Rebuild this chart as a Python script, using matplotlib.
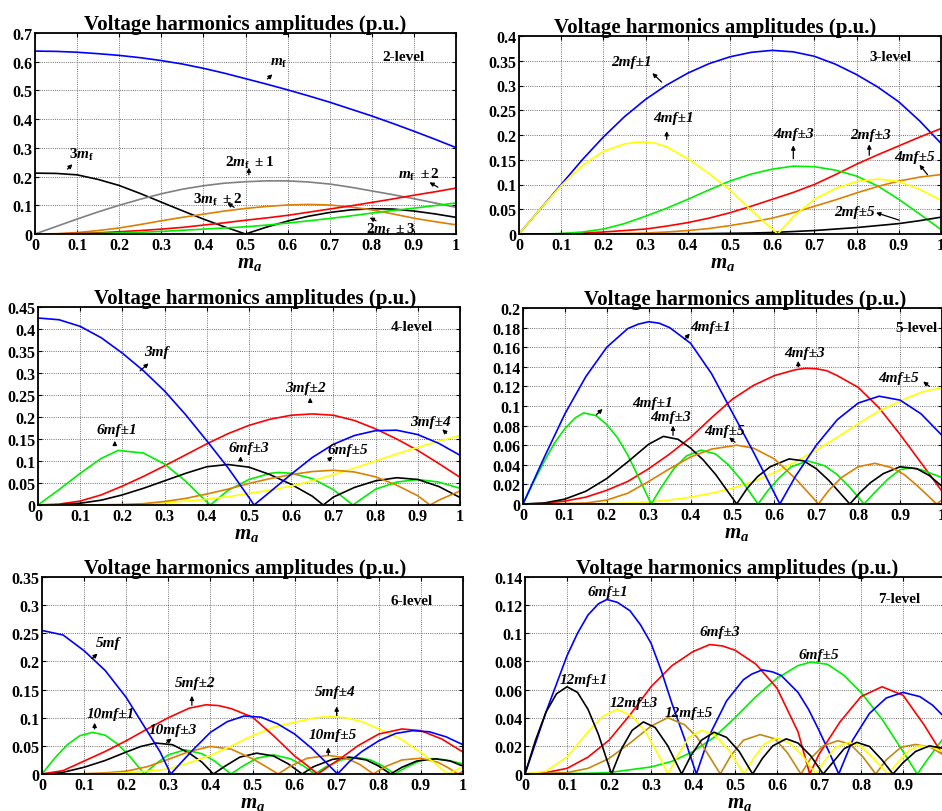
import matplotlib
matplotlib.use("Agg")
import matplotlib.pyplot as plt
from matplotlib.ticker import FuncFormatter

plt.rcParams["font.family"] = ["Liberation Serif", "DejaVu Serif"]
plt.rcParams["font.weight"] = "bold"
plt.rcParams["mathtext.fontset"] = "custom"
plt.rcParams["mathtext.rm"] = "Liberation Serif:bold"
plt.rcParams["mathtext.it"] = "Liberation Serif:italic:bold"
plt.rcParams["mathtext.bf"] = "Liberation Serif:bold"

# ---------------------------------------------------------------- data
MA = [0, 0.05, 0.1, 0.15, 0.2, 0.25, 0.3, 0.35, 0.4, 0.45, 0.5,
      0.55, 0.6, 0.65, 0.7, 0.75, 0.8, 0.85, 0.9, 0.95, 1.0]
X_TICKS = [0, 0.1, 0.2, 0.3, 0.4, 0.5, 0.6, 0.7, 0.8, 0.9, 1.0]

# 2-level
L2_MF = [0.637, 0.636, 0.633, 0.628, 0.622, 0.614, 0.604, 0.592, 0.577, 0.560, 0.541,
         0.522, 0.502, 0.481, 0.459, 0.435, 0.411, 0.385, 0.358, 0.330, 0.301]
L2_3MF = [0.212, 0.211, 0.206, 0.190, 0.169, 0.141, 0.111, 0.081, 0.052, 0.025, 0.0,
          0.024, 0.045, 0.062, 0.075, 0.084, 0.088, 0.087, 0.080, 0.070, 0.058]
L2_2MF1 = [0, 0.026, 0.052, 0.077, 0.100, 0.121, 0.140, 0.156, 0.168, 0.177, 0.182,
           0.185, 0.185, 0.181, 0.174, 0.163, 0.150, 0.137, 0.123, 0.108, 0.093]
L2_3MF2 = [0, 0.001, 0.005, 0.012, 0.021, 0.033, 0.046, 0.058, 0.069, 0.080, 0.089,
           0.096, 0.101, 0.103, 0.101, 0.094, 0.084, 0.070, 0.055, 0.043, 0.032]
L2_MF2 = [0, 0.0003, 0.002, 0.004, 0.008, 0.012, 0.017, 0.023, 0.031, 0.039, 0.048,
          0.056, 0.065, 0.076, 0.087, 0.098, 0.110, 0.122, 0.135, 0.147, 0.160]
L2_2MF3 = [0, 0, 0.001, 0.002, 0.004, 0.006, 0.009, 0.013, 0.017, 0.021, 0.025,
           0.031, 0.038, 0.046, 0.054, 0.063, 0.073, 0.082, 0.090, 0.099, 0.108]
L2_Y_TICKS = [0, 0.1, 0.2, 0.3, 0.4, 0.5, 0.6, 0.7]

# 3-level
L3_2MF1 = [0, 0.05, 0.1, 0.15, 0.196, 0.237, 0.272, 0.301, 0.325, 0.344, 0.358,
           0.367, 0.371, 0.368, 0.359, 0.343, 0.322, 0.297, 0.267, 0.228, 0.183]
L3_4MF1_X = [0, 0.05, 0.1, 0.15, 0.2, 0.25, 0.275, 0.3, 0.325, 0.35, 0.4, 0.45, 0.5, 0.55, 0.6, 0.613,
             0.65, 0.7, 0.75, 0.8, 0.85, 0.9, 0.95, 1.0]
L3_4MF1 = [0, 0.05, 0.098, 0.138, 0.167, 0.182, 0.185, 0.186, 0.183, 0.176, 0.152, 0.122, 0.089, 0.048, 0.01, 0,
           0.035, 0.07, 0.092, 0.106, 0.111, 0.106, 0.09, 0.068]
L3_4MF3 = [0, 0, 0.001, 0.004, 0.01, 0.021, 0.036, 0.052, 0.07, 0.089, 0.107,
           0.121, 0.131, 0.137, 0.136, 0.129, 0.117, 0.097, 0.07, 0.04, 0.009]
L3_2MF3 = [0, 0, 0.0005, 0.002, 0.004, 0.007, 0.01, 0.016, 0.023, 0.032, 0.043,
           0.056, 0.07, 0.084, 0.1, 0.12, 0.141, 0.16, 0.178, 0.196, 0.213]
L3_4MF5 = [0, 0, 0, 0, 0.0005, 0.001, 0.002, 0.004, 0.007, 0.011, 0.017,
           0.024, 0.032, 0.043, 0.056, 0.069, 0.083, 0.096, 0.107, 0.115, 0.12]
L3_2MF5 = [0, 0, 0, 0, 0, 0, 0.0002, 0.0004, 0.0007, 0.001, 0.0015,
           0.002, 0.003, 0.005, 0.007, 0.01, 0.013, 0.017, 0.021, 0.027, 0.034]
L3_Y_TICKS = [0, 0.05, 0.1, 0.15, 0.2, 0.25, 0.3, 0.35, 0.4]

# 4-level
L4_3MF_X = [0, 0.05, 0.1, 0.15, 0.2, 0.25, 0.3, 0.35, 0.4, 0.45, 0.5, 0.512,
            0.55, 0.6, 0.65, 0.7, 0.75, 0.8, 0.85, 0.9, 0.95, 1.0]
L4_3MF = [0.425, 0.421, 0.406, 0.38, 0.345, 0.305, 0.259, 0.205, 0.146, 0.085, 0.017, 0,
          0.03, 0.07, 0.108, 0.138, 0.158, 0.169, 0.17, 0.16, 0.14, 0.113]
L4_3MF2 = [0, 0.002, 0.009, 0.023, 0.043, 0.065, 0.089, 0.114, 0.139, 0.162, 0.181,
           0.195, 0.204, 0.207, 0.204, 0.192, 0.173, 0.15, 0.124, 0.094, 0.063]
L4_6MF1_X = [0, 0.05, 0.1, 0.15, 0.19, 0.25, 0.3, 0.35, 0.4, 0.408, 0.45, 0.5, 0.55, 0.57,
             0.6, 0.65, 0.7, 0.746, 0.8, 0.85, 0.9, 0.95, 1.0]
L4_6MF1 = [0, 0.035, 0.072, 0.106, 0.124, 0.118, 0.093, 0.054, 0.007, 0, 0.033, 0.058, 0.072, 0.074,
           0.072, 0.06, 0.035, 0, 0.036, 0.052, 0.058, 0.052, 0.038]
L4_6MF3_X = [0, 0.05, 0.1, 0.15, 0.2, 0.25, 0.3, 0.35, 0.4, 0.45, 0.5, 0.55, 0.6, 0.65, 0.676,
             0.7, 0.75, 0.8, 0.85, 0.9, 0.95, 1.0]
L4_6MF3 = [0, 0.0005, 0.004, 0.011, 0.023, 0.038, 0.055, 0.072, 0.087, 0.092, 0.086, 0.069, 0.047, 0.02, 0,
           0.018, 0.04, 0.055, 0.062, 0.058, 0.042, 0.017]
L4_6MF5_X = [0, 0.05, 0.1, 0.15, 0.2, 0.25, 0.3, 0.35, 0.4, 0.45, 0.5, 0.55, 0.6, 0.65, 0.7,
             0.75, 0.8, 0.85, 0.9, 0.929, 0.95, 1.0]
L4_6MF5 = [0, 0, 0, 0.0005, 0.001, 0.003, 0.008, 0.015, 0.025, 0.036, 0.049, 0.06, 0.069, 0.076, 0.079,
           0.075, 0.064, 0.045, 0.021, 0, 0.011, 0.032]
L4_3MF4 = [0, 0, 0, 0.0005, 0.001, 0.003, 0.005, 0.009, 0.013, 0.019, 0.026,
           0.034, 0.043, 0.055, 0.069, 0.084, 0.1, 0.116, 0.131, 0.145, 0.158]
L4_Y_TICKS = [0, 0.05, 0.1, 0.15, 0.2, 0.25, 0.3, 0.35, 0.4, 0.45]

# 5-level
L5_4MF1_X = [0, 0.05, 0.1, 0.15, 0.2, 0.25, 0.275, 0.3, 0.325, 0.35, 0.4, 0.45, 0.5, 0.55, 0.6, 0.613,
             0.65, 0.7, 0.75, 0.8, 0.85, 0.9, 0.95, 1.0]
L5_4MF1 = [0, 0.047, 0.092, 0.13, 0.16, 0.179, 0.1835, 0.186, 0.1845, 0.18, 0.164, 0.133, 0.093, 0.053, 0.011, 0,
           0.028, 0.06, 0.086, 0.103, 0.11, 0.106, 0.092, 0.07]
L5_4MF3_X = [0, 0.05, 0.1, 0.15, 0.2, 0.25, 0.3, 0.35, 0.4, 0.45, 0.5, 0.55, 0.6, 0.65, 0.675,
             0.7, 0.725, 0.75, 0.8, 0.85, 0.9, 0.95, 1.0]
L5_4MF3 = [0, 0.0005, 0.003, 0.007, 0.014, 0.023, 0.036, 0.051, 0.068, 0.088, 0.107, 0.121, 0.131, 0.137, 0.1385,
           0.138, 0.136, 0.131, 0.119, 0.098, 0.071, 0.042, 0.013]
L5_4MF5 = [0, 0, 0, 0, 0.0005, 0.001, 0.002, 0.004, 0.007, 0.011, 0.016,
           0.023, 0.032, 0.043, 0.055, 0.068, 0.082, 0.095, 0.105, 0.114, 0.119]
L5_8MF1_X = [0, 0.025, 0.05, 0.075, 0.1, 0.125, 0.145, 0.175, 0.2, 0.225, 0.25, 0.275, 0.306,
             0.33, 0.36, 0.39, 0.425, 0.46, 0.49, 0.52, 0.561,
             0.585, 0.61, 0.64, 0.68, 0.72, 0.75, 0.78, 0.814,
             0.84, 0.87, 0.9, 0.925, 0.95, 0.975, 1.0]
L5_8MF1 = [0, 0.022, 0.043, 0.062, 0.077, 0.088, 0.093, 0.09, 0.081, 0.068, 0.05, 0.028, 0,
           0.017, 0.036, 0.049, 0.055, 0.051, 0.04, 0.025, 0,
           0.014, 0.026, 0.038, 0.044, 0.039, 0.03, 0.017, 0,
           0.012, 0.025, 0.035, 0.037, 0.035, 0.031, 0.027]
L5_8MF3_X = [0, 0.05, 0.1, 0.15, 0.2, 0.25, 0.3, 0.335, 0.37, 0.4, 0.43, 0.46, 0.49, 0.51,
             0.535, 0.56, 0.59, 0.635, 0.67, 0.7, 0.73, 0.755, 0.78,
             0.805, 0.83, 0.86, 0.9, 0.94, 0.97, 1.0]
L5_8MF3 = [0, 0.001, 0.005, 0.013, 0.026, 0.043, 0.061, 0.069, 0.066, 0.057, 0.045, 0.03, 0.012, 0,
           0.016, 0.028, 0.038, 0.046, 0.044, 0.036, 0.024, 0.012, 0,
           0.012, 0.022, 0.031, 0.038, 0.036, 0.029, 0.018]
L5_8MF5_X = [0, 0.1, 0.15, 0.2, 0.25, 0.3, 0.35, 0.4, 0.45, 0.51, 0.55, 0.6, 0.65, 0.68, 0.705,
             0.73, 0.76, 0.8, 0.84, 0.88, 0.91, 0.94, 0.965, 0.987, 1.0]
L5_8MF5 = [0, 0.0005, 0.001, 0.004, 0.011, 0.023, 0.036, 0.048, 0.056, 0.06, 0.057, 0.046, 0.026, 0.012, 0,
           0.014, 0.027, 0.038, 0.0415, 0.037, 0.03, 0.019, 0.009, 0, 0.004]
L5_Y_TICKS = [0, 0.02, 0.04, 0.06, 0.08, 0.1, 0.12, 0.14, 0.16, 0.18, 0.2]

# 6-level
L6_5MF_X = [0, 0.05, 0.1, 0.15, 0.2, 0.25, 0.28, 0.306,
            0.33, 0.36, 0.4, 0.44, 0.48, 0.52, 0.56, 0.6, 0.64, 0.67, 0.702,
            0.73, 0.76, 0.8, 0.84, 0.88, 0.92, 0.96, 1.0]
L6_5MF = [0.255, 0.247, 0.219, 0.184, 0.136, 0.076, 0.04, 0,
          0.02, 0.044, 0.074, 0.093, 0.103, 0.101, 0.089, 0.071, 0.046, 0.024, 0,
          0.022, 0.04, 0.059, 0.072, 0.077, 0.075, 0.066, 0.052]
L6_5MF2_X = [0, 0.05, 0.1, 0.15, 0.2, 0.25, 0.3, 0.35, 0.39, 0.42, 0.45, 0.5, 0.55, 0.6, 0.63, 0.655,
             0.68, 0.71, 0.75, 0.8, 0.855, 0.9, 0.95, 1.0]
L6_5MF2 = [0, 0.006, 0.023, 0.04, 0.059, 0.08, 0.1, 0.117, 0.123, 0.1215, 0.116, 0.101, 0.068, 0.032, 0.015, 0,
           0.013, 0.028, 0.05, 0.071, 0.08, 0.077, 0.062, 0.039]
L6_5MF4_X = [0, 0.1, 0.15, 0.2, 0.25, 0.3, 0.35, 0.4, 0.45, 0.5, 0.55, 0.6, 0.65, 0.68, 0.72,
             0.76, 0.8, 0.85, 0.9, 0.93, 0.964, 0.98, 1.0]
L6_5MF4 = [0, 0, 0.0005, 0.002, 0.005, 0.009, 0.02, 0.033, 0.05, 0.068, 0.083, 0.092, 0.1, 0.102, 0.1,
           0.093, 0.08, 0.063, 0.038, 0.021, 0, 0.006, 0.013]
L6_10MF1_X = [0, 0.03, 0.06, 0.09, 0.12, 0.15, 0.18, 0.21, 0.243,
              0.27, 0.3, 0.34, 0.38, 0.41, 0.449,
              0.475, 0.51, 0.55, 0.59, 0.62, 0.648,
              0.675, 0.71, 0.745, 0.78, 0.81, 0.838,
              0.865, 0.9, 0.93, 0.96, 1.0]
L6_10MF1 = [0, 0.028, 0.052, 0.068, 0.074, 0.069, 0.053, 0.03, 0,
            0.018, 0.034, 0.043, 0.036, 0.023, 0,
            0.013, 0.028, 0.034, 0.027, 0.015, 0,
            0.013, 0.025, 0.03, 0.025, 0.014, 0,
            0.012, 0.024, 0.027, 0.025, 0.018]
L6_10MF3_X = [0, 0.05, 0.1, 0.15, 0.2, 0.235, 0.27, 0.31, 0.35, 0.38, 0.407,
              0.435, 0.47, 0.51, 0.55, 0.585, 0.618,
              0.645, 0.69, 0.73, 0.77, 0.8, 0.828,
              0.855, 0.89, 0.935, 0.97, 1.0]
L6_10MF3 = [0, 0.003, 0.012, 0.024, 0.039, 0.049, 0.055, 0.052, 0.037, 0.021, 0,
            0.014, 0.03, 0.037, 0.032, 0.018, 0,
            0.013, 0.026, 0.03, 0.025, 0.014, 0,
            0.012, 0.023, 0.027, 0.023, 0.014]
L6_10MF5_X = [0, 0.1, 0.15, 0.2, 0.25, 0.3, 0.35, 0.4, 0.45, 0.5, 0.53, 0.561,
              0.59, 0.63, 0.68, 0.72, 0.755, 0.787,
              0.815, 0.855, 0.9, 0.94, 0.965, 0.988, 1.0]
L6_10MF5 = [0, 0.0005, 0.002, 0.005, 0.013, 0.026, 0.04, 0.049, 0.044, 0.027, 0.014, 0,
            0.014, 0.028, 0.033, 0.029, 0.017, 0,
            0.013, 0.025, 0.028, 0.021, 0.011, 0, 0.005]
L6_Y_TICKS = [0, 0.05, 0.1, 0.15, 0.2, 0.25, 0.3, 0.35]

# 7-level
L7_6MF1_X = [0, 0.05, 0.1, 0.125, 0.15, 0.175, 0.195, 0.22, 0.25, 0.275, 0.3, 0.325, 0.35, 0.38, 0.408,
             0.44, 0.48, 0.52, 0.54, 0.565, 0.59, 0.61, 0.65, 0.675, 0.7, 0.725, 0.747,
             0.78, 0.82, 0.86, 0.9, 0.94, 0.97, 1.0]
L7_6MF1 = [0, 0.044, 0.084, 0.1, 0.113, 0.121, 0.124, 0.122, 0.116, 0.106, 0.093, 0.073, 0.05, 0.025, 0,
           0.028, 0.052, 0.067, 0.071, 0.074, 0.0725, 0.07, 0.058, 0.046, 0.031, 0.015, 0,
           0.024, 0.043, 0.054, 0.058, 0.055, 0.049, 0.04]
L7_6MF3_X = [0, 0.05, 0.1, 0.15, 0.2, 0.25, 0.3, 0.35, 0.4, 0.44, 0.47, 0.5, 0.55, 0.6, 0.65, 0.678,
             0.7, 0.75, 0.8, 0.85, 0.9, 0.95, 1.0]
L7_6MF3 = [0, 0.001, 0.004, 0.012, 0.024, 0.042, 0.062, 0.077, 0.087, 0.092, 0.091, 0.088, 0.078, 0.061, 0.03, 0,
           0.014, 0.037, 0.055, 0.062, 0.056, 0.035, 0.011]
L7_6MF5_X = [0, 0.15, 0.2, 0.25, 0.3, 0.35, 0.4, 0.45, 0.5, 0.55, 0.6, 0.65, 0.68, 0.72,
             0.76, 0.8, 0.85, 0.9, 0.934, 0.96, 1.0]
L7_6MF5 = [0, 0.0005, 0.001, 0.003, 0.005, 0.009, 0.016, 0.026, 0.04, 0.055, 0.068, 0.077, 0.0795, 0.078,
           0.07, 0.058, 0.039, 0.016, 0, 0.011, 0.027]
L7_12MF1_X = [0, 0.025, 0.05, 0.075, 0.1, 0.125, 0.15, 0.175, 0.206,
              0.23, 0.255, 0.282, 0.31, 0.34, 0.373,
              0.395, 0.42, 0.45, 0.48, 0.51, 0.542,
              0.565, 0.59, 0.622, 0.65, 0.68, 0.71,
              0.735, 0.76, 0.79, 0.82, 0.85, 0.876,
              0.9, 0.93, 0.963, 1.0]
L7_12MF1 = [0, 0.024, 0.044, 0.057, 0.062, 0.058, 0.046, 0.028, 0,
            0.018, 0.031, 0.037, 0.033, 0.02, 0,
            0.013, 0.024, 0.0297, 0.026, 0.016, 0,
            0.011, 0.02, 0.025, 0.022, 0.013, 0,
            0.009, 0.018, 0.0225, 0.0196, 0.01, 0,
            0.008, 0.016, 0.02, 0.018]
L7_12MF3_X = [0, 0.05, 0.1, 0.15, 0.185, 0.22, 0.255, 0.285, 0.315, 0.341,
              0.365, 0.39, 0.42, 0.45, 0.485, 0.521,
              0.545, 0.57, 0.6, 0.63, 0.66, 0.692,
              0.715, 0.74, 0.77, 0.8, 0.83, 0.864,
              0.89, 0.915, 0.94, 0.97, 1.0]
L7_12MF3 = [0, 0.002, 0.012, 0.03, 0.041, 0.046, 0.041, 0.031, 0.015, 0,
            0.014, 0.026, 0.031, 0.028, 0.017, 0,
            0.0115, 0.0215, 0.0256, 0.022, 0.0135, 0,
            0.01, 0.019, 0.0225, 0.0196, 0.011, 0,
            0.009, 0.017, 0.02, 0.019, 0.015]
L7_12MF5_X = [0, 0.1, 0.15, 0.2, 0.25, 0.3, 0.34, 0.38, 0.41, 0.44, 0.465,
              0.49, 0.52, 0.56, 0.595, 0.625, 0.657,
              0.68, 0.71, 0.745, 0.775, 0.805, 0.835,
              0.86, 0.895, 0.93, 0.965, 1.0]
L7_12MF5 = [0, 0.001, 0.004, 0.011, 0.022, 0.034, 0.04, 0.035, 0.026, 0.012, 0,
            0.013, 0.024, 0.028, 0.025, 0.015, 0,
            0.011, 0.02, 0.0237, 0.021, 0.012, 0,
            0.01, 0.019, 0.021, 0.019, 0.013]
L7_Y_TICKS = [0, 0.02, 0.04, 0.06, 0.08, 0.1, 0.12, 0.14]

# ---------------------------------------------------------------- style
BLUE, RED, GREEN, YELLOW = "#0000ff", "#ff0000", "#00ee00", "#ffff00"
ORANGE, GRAY, BLACK, OCHRE = "#dd7f00", "#808080", "#000000", "#c08a10"
LW = 1.2
TITLE = "Voltage harmonics amplitudes (p.u.)"

W, H = 942, 812
fig = plt.figure(figsize=(W / 100, H / 100), dpi=100)


def make_axes(left, right, top, bottom, yticks, title_x=0.5, label_x=0.5):
    ax = fig.add_axes([left / W, 1 - bottom / H, (right - left) / W, (bottom - top) / H])
    ax.set_xlim(0, 1)
    ax.set_ylim(yticks[0], yticks[-1])
    ax.set_xticks(X_TICKS)
    ax.set_yticks(yticks)
    fmt = FuncFormatter(lambda v, p: ("%.2f" % v).rstrip("0").rstrip(".") if v else "0")
    ax.xaxis.set_major_formatter(fmt)
    ax.yaxis.set_major_formatter(fmt)
    ax.tick_params(direction="in", length=3, width=0.8, labelsize=11.5, pad=2,
                   top=True, right=True)
    for lab in ax.get_xticklabels() + ax.get_yticklabels():
        lab.set_fontweight("bold")
    ax.grid(True, color="#444444", linestyle=(0, (1, 1.6)), linewidth=0.6)
    for s in ax.spines.values():
        s.set_linewidth(1.3)
    ax.set_title(TITLE, fontsize=15, fontweight="bold", pad=3, x=title_x)
    ax.set_xlabel(r"$m_a$", fontsize=15, labelpad=0, x=label_x)
    return ax


def tag(ax, text, x, y, arrow=None, italic=True, size=11):
    ax.text(x, y, text, ha="center", va="center", fontsize=size, fontweight="bold",
            fontstyle="italic" if italic else "normal", zorder=5)
    if arrow is not None:
        ax.annotate("", xy=arrow[1], xytext=arrow[0],
                    arrowprops=dict(arrowstyle="-|>", color="k", lw=0.9,
                                    mutation_scale=6, shrinkA=0, shrinkB=0), zorder=5)


# ---------------------------------------------------------------- 2-level
ax = make_axes(35, 456, 34, 235, L2_Y_TICKS, 0.5, 0.51)
ax.plot(MA, L2_MF, color=BLUE, lw=LW)
ax.plot(MA, L2_3MF, color=BLACK, lw=LW)
ax.plot(MA, L2_2MF1, color=GRAY, lw=LW)
ax.plot(MA, L2_3MF2, color=ORANGE, lw=LW)
ax.plot(MA, L2_MF2, color=RED, lw=LW)
ax.plot(MA, L2_2MF3, color=GREEN, lw=LW)
tag(ax, "2-level", 0.875, 0.617, italic=False)
tag(ax, r"$m_\mathrm{f}$", 0.58, 0.596, arrow=((0.552, 0.54), (0.564, 0.556)))
tag(ax, r"$3m_\mathrm{f}$", 0.11, 0.278, arrow=((0.077, 0.226), (0.089, 0.243)))
tag(ax, r"$2m_\mathrm{f}\ \pm1$", 0.51, 0.252, arrow=((0.508, 0.206), (0.508, 0.231)))
tag(ax, r"$m_\mathrm{f}\ \pm2$", 0.912, 0.208, arrow=((0.957, 0.163), (0.937, 0.18)))
tag(ax, r"$3m_\mathrm{f}\ \pm2$", 0.435, 0.121, arrow=((0.473, 0.093), (0.457, 0.108)))
tag(ax, r"$2m_\mathrm{f}\ \pm3$", 0.845, 0.017, arrow=((0.81, 0.046), (0.795, 0.057)))

# ---------------------------------------------------------------- 3-level
ax = make_axes(519, 941, 37, 235, L3_Y_TICKS, 0.464, 0.483)
ax.plot(MA, L3_2MF1, color=BLUE, lw=LW)
ax.plot(MA, L3_2MF3, color=RED, lw=LW)
ax.plot(MA, L3_4MF3, color=GREEN, lw=LW)
ax.plot(MA, L3_4MF5, color=ORANGE, lw=LW)
ax.plot(MA, L3_2MF5, color=BLACK, lw=LW)
ax.plot(L3_4MF1_X, L3_4MF1, color=YELLOW, lw=LW)
tag(ax, "3-level", 0.88, 0.359, italic=False)
tag(ax, "2mf±1", 0.267, 0.348, arrow=((0.338, 0.307), (0.316, 0.325)))
tag(ax, "4mf±1", 0.366, 0.235, arrow=((0.35, 0.191), (0.35, 0.208)))
tag(ax, "4mf±3", 0.65, 0.203, arrow=((0.65, 0.152), (0.65, 0.179)))
tag(ax, "2mf±3", 0.833, 0.201, arrow=((0.83, 0.159), (0.83, 0.181)))
tag(ax, "4mf±5", 0.938, 0.157, arrow=((0.968, 0.12), (0.949, 0.14)))
tag(ax, "2mf±5", 0.794, 0.046, arrow=((0.901, 0.028), (0.846, 0.043)))

# ---------------------------------------------------------------- 4-level
ax = make_axes(38, 460, 308, 506, L4_Y_TICKS, 0.514, 0.495)
ax.plot(MA, L4_3MF2, color=RED, lw=LW)
ax.plot(L4_6MF1_X, L4_6MF1, color=GREEN, lw=LW)
ax.plot(L4_6MF3_X, L4_6MF3, color=BLACK, lw=LW)
ax.plot(MA, L4_3MF4, color=YELLOW, lw=LW)
ax.plot(L4_6MF5_X, L4_6MF5, color=ORANGE, lw=LW)
ax.plot(L4_3MF_X, L4_3MF, color=BLUE, lw=LW)
tag(ax, "4-level", 0.887, 0.406, italic=False)
tag(ax, "3mf", 0.28, 0.349, arrow=((0.242, 0.305), (0.262, 0.322)))
tag(ax, "3mf±2", 0.634, 0.268, arrow=((0.645, 0.234), (0.645, 0.244)))
tag(ax, "6mf±1", 0.187, 0.172, arrow=((0.182, 0.135), (0.182, 0.146)))
tag(ax, "6mf±3", 0.5, 0.131, arrow=((0.48, 0.102), (0.48, 0.111)))
tag(ax, "6mf±5", 0.735, 0.126, arrow=((0.688, 0.102), (0.698, 0.11)))
tag(ax, "3mf±4", 0.93, 0.19, arrow=((0.968, 0.163), (0.958, 0.172)))

# ---------------------------------------------------------------- 5-level
ax = make_axes(523, 942, 309, 505, L5_Y_TICKS, 0.53, 0.51)
ax.plot(L5_4MF3_X, L5_4MF3, color=RED, lw=LW)
ax.plot(MA, L5_4MF5, color=YELLOW, lw=LW)
ax.plot(L5_8MF1_X, L5_8MF1, color=GREEN, lw=LW)
ax.plot(L5_8MF3_X, L5_8MF3, color=BLACK, lw=LW)
ax.plot(L5_8MF5_X, L5_8MF5, color=ORANGE, lw=LW)
ax.plot(L5_4MF1_X, L5_4MF1, color=BLUE, lw=LW)
tag(ax, "5-level", 0.94, 0.18, italic=False)
tag(ax, "4mf±1", 0.447, 0.181, arrow=((0.386, 0.168), (0.398, 0.174)))
tag(ax, "4mf±3", 0.673, 0.155, arrow=((0.657, 0.14), (0.657, 0.146)))
tag(ax, "4mf±5", 0.897, 0.129, arrow=((0.97, 0.12), (0.955, 0.125)))
tag(ax, "4mf±1", 0.31, 0.104, arrow=((0.175, 0.091), (0.19, 0.097)))
tag(ax, "4mf±3", 0.352, 0.089, arrow=((0.358, 0.07), (0.358, 0.08)))
tag(ax, "4mf±5", 0.48, 0.075, arrow=((0.506, 0.063), (0.492, 0.068)))

# ---------------------------------------------------------------- 6-level
ax = make_axes(42, 463, 578, 775, L6_Y_TICKS, 0.482, 0.5)
ax.plot(L6_10MF1_X, L6_10MF1, color=GREEN, lw=LW)
ax.plot(L6_10MF3_X, L6_10MF3, color=BLACK, lw=LW)
ax.plot(L6_10MF5_X, L6_10MF5, color=ORANGE, lw=LW)
ax.plot(L6_5MF4_X, L6_5MF4, color=YELLOW, lw=LW)
ax.plot(L6_5MF2_X, L6_5MF2, color=RED, lw=LW)
ax.plot(L6_5MF_X, L6_5MF, color=BLUE, lw=LW)
tag(ax, "6-level", 0.877, 0.308, italic=False)
tag(ax, "5mf", 0.156, 0.234, arrow=((0.119, 0.205), (0.132, 0.214)))
tag(ax, "5mf±2", 0.364, 0.163, arrow=((0.356, 0.122), (0.356, 0.139)))
tag(ax, "5mf±4", 0.696, 0.146, arrow=((0.7, 0.104), (0.7, 0.12)))
tag(ax, "10mf±1", 0.163, 0.107, arrow=((0.125, 0.08), (0.125, 0.091)))
tag(ax, "10mf±3", 0.31, 0.079, arrow=((0.296, 0.056), (0.308, 0.063)))
tag(ax, "10mf±5", 0.69, 0.07, arrow=((0.68, 0.034), (0.68, 0.047)))

# ---------------------------------------------------------------- 7-level
ax = make_axes(525, 945, 578, 775, L7_Y_TICKS, 0.505, 0.51)
ax.plot(L7_6MF5_X, L7_6MF5, color=GREEN, lw=LW)
ax.plot(L7_6MF3_X, L7_6MF3, color=RED, lw=LW)
ax.plot(L7_6MF1_X, L7_6MF1, color=BLUE, lw=LW)
ax.plot(L7_12MF5_X, L7_12MF5, color=OCHRE, lw=LW)
ax.plot(L7_12MF3_X, L7_12MF3, color=YELLOW, lw=LW)
ax.plot(L7_12MF1_X, L7_12MF1, color=BLACK, lw=LW)
tag(ax, "7-level", 0.892, 0.1246, italic=False)
tag(ax, "6mf±1", 0.198, 0.13)
tag(ax, "6mf±3", 0.464, 0.101)
tag(ax, "6mf±5", 0.7, 0.085)
tag(ax, "12mf±1", 0.14, 0.067)
tag(ax, "12mf±3", 0.26, 0.051)
tag(ax, "12mf±5", 0.39, 0.044)

fig.savefig("out.png", dpi=100)
